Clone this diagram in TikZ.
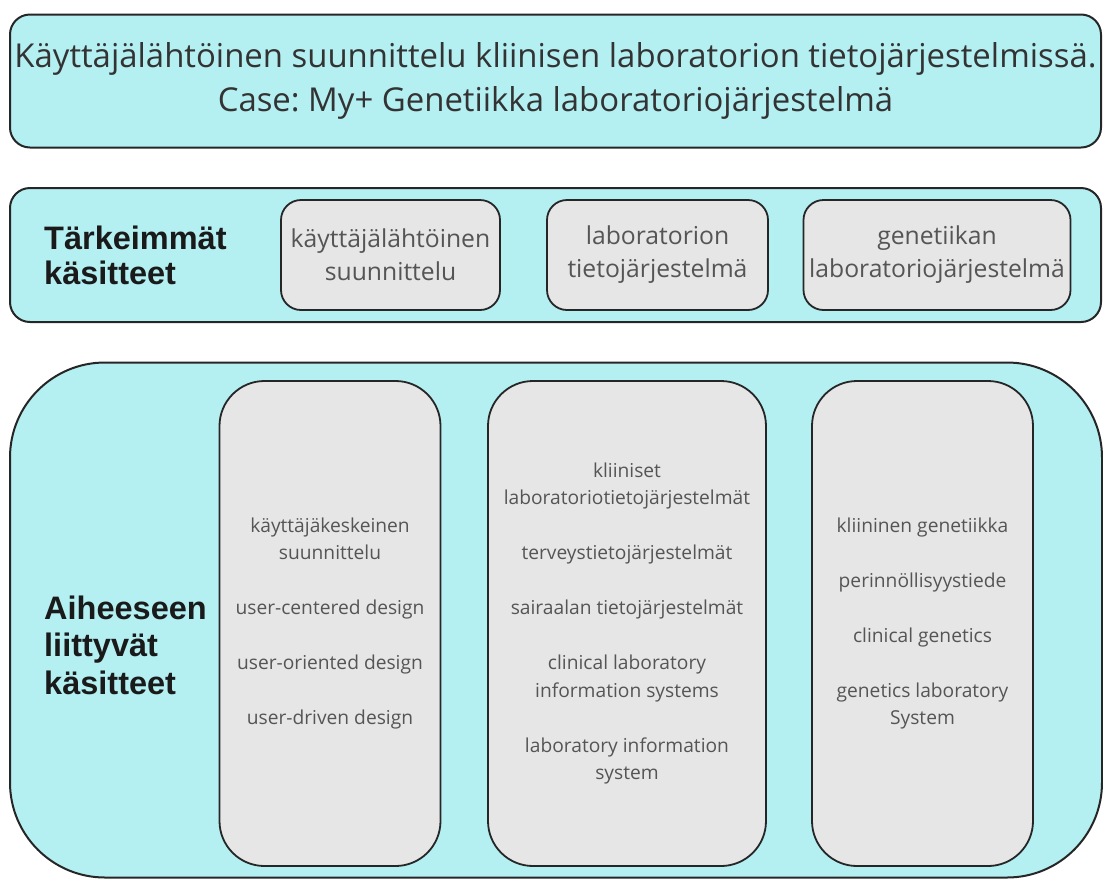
\documentclass[tikz,border=0pt]{standalone}
\usepackage{fontspec}
\setmainfont{Open Sans}
\newfontfamily\headfont{Liberation Sans}
\usetikzlibrary{positioning}
\definecolor{boxcyan}{HTML}{B4EFF2}
\definecolor{boxgray}{HTML}{E6E6E6}
\definecolor{edgecol}{HTML}{262626}
\definecolor{txtgray}{HTML}{555555}
\definecolor{titlegray}{HTML}{333333}
\definecolor{headcol}{HTML}{1A1A1A}
\frenchspacing

\tikzset{
  bandbox/.style={draw=edgecol, line width=2pt, fill=boxcyan, rounded corners=20pt, inner sep=0pt},
  keybox/.style={draw=edgecol, line width=1.8pt, fill=boxgray, rounded corners=20pt, inner sep=0pt,
    minimum width=219pt, minimum height=110pt, align=center, text=txtgray, font=\fontsize{24.7}{33}\selectfont},
  relbox/.style={draw=edgecol, line width=1.8pt, fill=boxgray, rounded corners=45pt, inner sep=0pt,
    minimum height=485pt, align=center, text=txtgray, font=\fontsize{19.2}{27.5}\selectfont},
  heading/.style={anchor=west, align=left, inner sep=0pt, text=headcol,
    font=\headfont\bfseries\fontsize{32.5}{35}\selectfont},
}

\begin{document}
\begin{tikzpicture}[x=1pt, y=-1pt]
\useasboundingbox (0,0) rectangle (1103,879);

% Title band
\node[bandbox, minimum width=1091pt, minimum height=133pt, align=center, text=titlegray,
  font=\fontsize{32.9}{44}\selectfont] (title) at (555.5,81)
  {Käyttäjälähtöinen suunnittelu kliinisen laboratorion tietojärjestelmissä.\\Case: My+ Genetiikka laboratoriojärjestelmä};

% Key concepts band
\node[bandbox, minimum width=1091pt, minimum height=134pt] (keyband) at (555.5,255) {};
\node[heading] (keyhead) at (44,255) {Tärkeimmät\\käsitteet};
\node[keybox] (key1) at (390.5,255) {käyttäjälähtöinen\\suunnittelu};
\node[keybox, minimum width=221pt] (key2) at (657.5,255) {laboratorion\\tietojärjestelmä};
\node[keybox, minimum width=267pt] (key3) at (937,255) {genetiikan\\laboratoriojärjestelmä};

% Related concepts band
\node[bandbox, rounded corners=95pt, minimum width=1092pt, minimum height=515pt] (relband) at (556,620) {};
\node[heading, font=\headfont\bfseries\fontsize{32.5}{37.5}\selectfont] (relhead) at (44,645)
  {Aiheeseen\\liittyvät\\käsitteet};
\node[relbox, minimum width=221pt] (rel1) at (330,623.5)
  {käyttäjäkeskeinen\\suunnittelu\\[27.5pt]user-centered design\\[27.5pt]user-oriented design\\[27.5pt]user-driven design};
\node[relbox, minimum width=278pt] (rel2) at (627,623.5)
  {kliiniset\\laboratoriotietojärjestelmät\\[27.5pt]terveystietojärjestelmät\\[27.5pt]sairaalan tietojärjestelmät\\[27.5pt]clinical laboratory\\information systems\\[27.5pt]laboratory information\\system};
\node[relbox, minimum width=221pt] (rel3) at (922.5,623.5)
  {kliininen genetiikka\\[27.5pt]perinnöllisyystiede\\[27.5pt]clinical genetics\\[27.5pt]genetics laboratory\\System};

\end{tikzpicture}
\end{document}
